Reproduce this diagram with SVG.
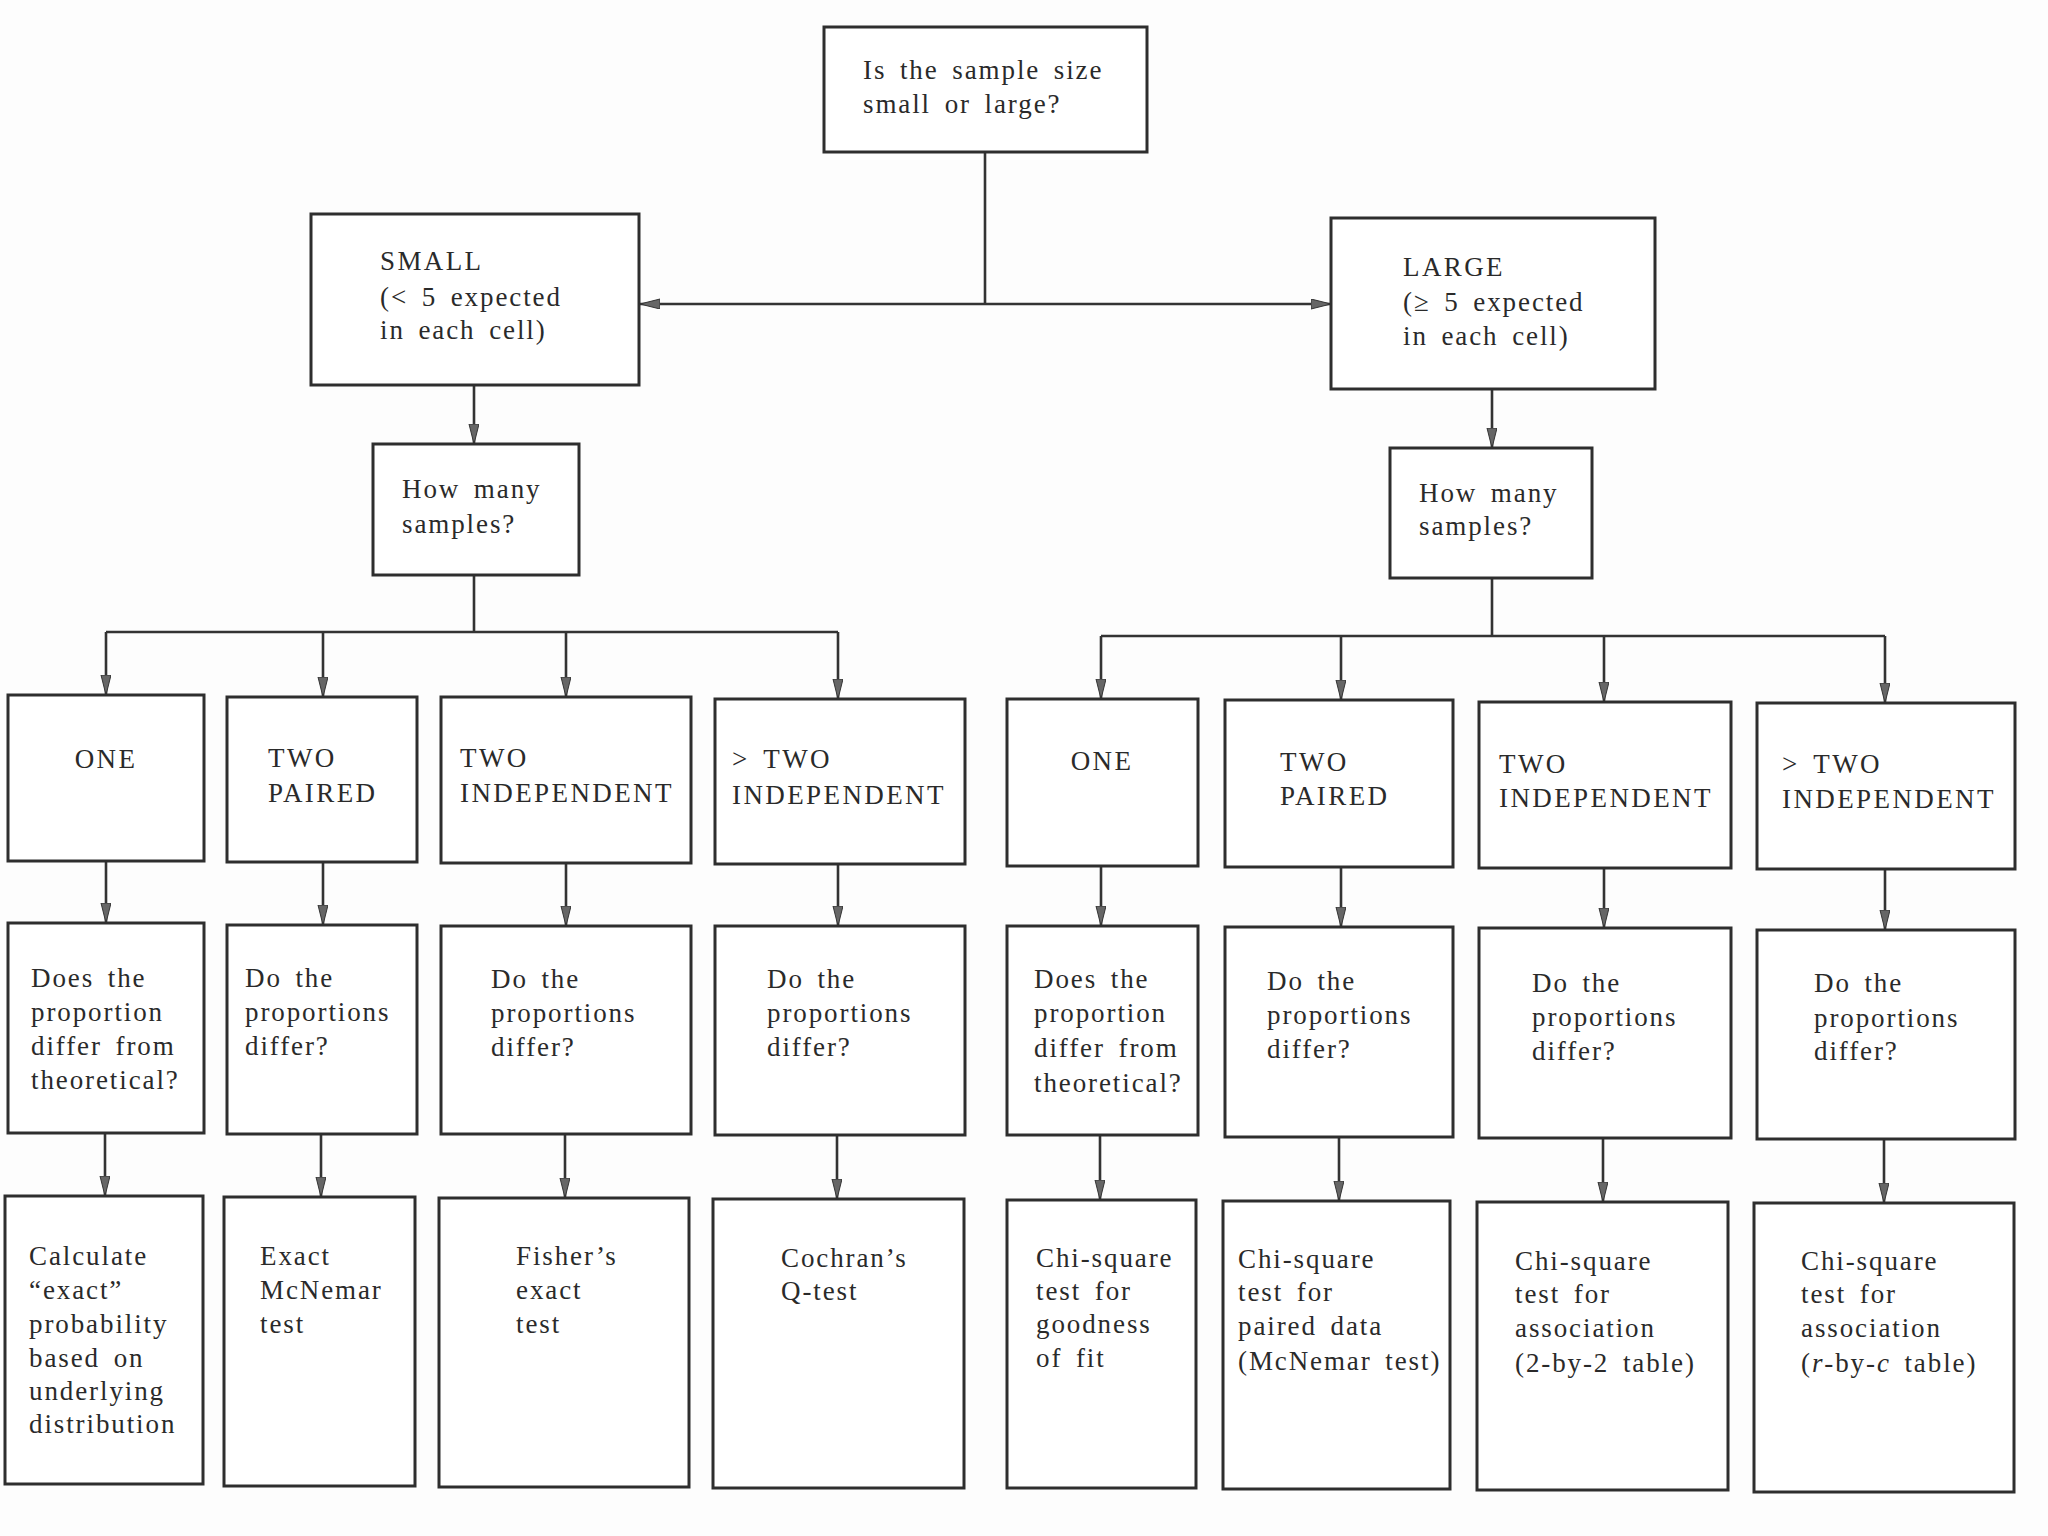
<svg xmlns="http://www.w3.org/2000/svg" width="2048" height="1536" viewBox="0 0 2048 1536">
<defs>
<marker id="arr" markerUnits="userSpaceOnUse" markerWidth="22" markerHeight="12" refX="20" refY="5" orient="auto">
<path d="M0,0 L20,5 L0,10 z" fill="#666" stroke="#333" stroke-width="1"/>
</marker>
<style>
.bx{fill:#fff;stroke:#2e2e2e;stroke-width:3}
.ln{fill:none;stroke:#333;stroke-width:2.6}
.ar{fill:none;stroke:#333;stroke-width:2.6;marker-end:url(#arr)}
text{font-family:"Liberation Serif","Times New Roman",serif;font-size:27px;fill:#2a2a2a;letter-spacing:1.9px;word-spacing:5px}
text.c{letter-spacing:2.4px}
</style>
</defs>
<rect width="2048" height="1536" fill="#fdfdfd"/>
<g id="connectors">
<path class="ln" d="M985,152 V304"/>
<path class="ar" d="M985,304 H640"/>
<path class="ar" d="M985,304 H1331"/>
<path class="ar" d="M474,385 V444"/>
<path class="ar" d="M1492,389 V448"/>
<path class="ln" d="M474,575 V632 M106,632 H838"/>
<path class="ar" d="M106,632 V695"/>
<path class="ar" d="M323,632 V697"/>
<path class="ar" d="M566,632 V697"/>
<path class="ar" d="M838,632 V699"/>
<path class="ln" d="M1492,578 V637 M1101,636 H1885"/>
<path class="ar" d="M1101,636 V699"/>
<path class="ar" d="M1341,636 V700"/>
<path class="ar" d="M1604,636 V702"/>
<path class="ar" d="M1885,636 V703"/>
<path class="ar" d="M106,861 V923"/>
<path class="ar" d="M323,862 V925"/>
<path class="ar" d="M566,863 V926"/>
<path class="ar" d="M838,864 V926"/>
<path class="ar" d="M1101,866 V926"/>
<path class="ar" d="M1341,867 V927"/>
<path class="ar" d="M1604,868 V928"/>
<path class="ar" d="M1885,869 V930"/>
<path class="ar" d="M105,1133 V1196"/>
<path class="ar" d="M321,1134 V1197"/>
<path class="ar" d="M565,1134 V1198"/>
<path class="ar" d="M837,1135 V1199"/>
<path class="ar" d="M1100,1135 V1200"/>
<path class="ar" d="M1339,1137 V1201"/>
<path class="ar" d="M1603,1138 V1202"/>
<path class="ar" d="M1884,1139 V1203"/>
</g>
<g id="n-root"><rect class="bx" x="824" y="27" width="323" height="125"/>
<text x="863" y="79">Is the sample size</text><text x="863" y="113">small or large?</text></g>
<g id="n-small"><rect class="bx" x="311" y="214" width="328" height="171"/>
<text class="c" x="380" y="270">SMALL</text><text x="380" y="306">(&lt; 5 expected</text><text x="380" y="339">in each cell)</text></g>
<g id="n-large"><rect class="bx" x="1331" y="218" width="324" height="171"/>
<text class="c" x="1403" y="276">LARGE</text><text x="1403" y="311">(≥ 5 expected</text><text x="1403" y="345">in each cell)</text></g>
<g id="n-hm-small"><rect class="bx" x="373" y="444" width="206" height="131"/>
<text x="402" y="498">How many</text><text x="402" y="533">samples?</text></g>
<g id="n-hm-large"><rect class="bx" x="1390" y="448" width="202" height="130"/>
<text x="1419" y="502">How many</text><text x="1419" y="535">samples?</text></g>

<g id="n-s-one"><rect class="bx" x="8" y="695" width="196" height="166"/>
<text class="c" x="106" y="768" text-anchor="middle">ONE</text></g>
<g id="n-s-paired"><rect class="bx" x="227" y="697" width="190" height="165"/>
<text class="c" x="268" y="767">TWO</text><text class="c" x="268" y="802">PAIRED</text></g>
<g id="n-s-indep"><rect class="bx" x="441" y="697" width="250" height="166"/>
<text class="c" x="460" y="767">TWO</text><text class="c" x="460" y="802">INDEPENDENT</text></g>
<g id="n-s-more"><rect class="bx" x="715" y="699" width="250" height="165"/>
<text class="c" x="732" y="768">&gt; TWO</text><text class="c" x="732" y="804">INDEPENDENT</text></g>

<g id="n-l-one"><rect class="bx" x="1007" y="699" width="191" height="167"/>
<text class="c" x="1102" y="770" text-anchor="middle">ONE</text></g>
<g id="n-l-paired"><rect class="bx" x="1225" y="700" width="228" height="167"/>
<text class="c" x="1280" y="771">TWO</text><text class="c" x="1280" y="805">PAIRED</text></g>
<g id="n-l-indep"><rect class="bx" x="1479" y="702" width="252" height="166"/>
<text class="c" x="1499" y="773">TWO</text><text class="c" x="1499" y="807">INDEPENDENT</text></g>
<g id="n-l-more"><rect class="bx" x="1757" y="703" width="258" height="166"/>
<text class="c" x="1782" y="773">&gt; TWO</text><text class="c" x="1782" y="808">INDEPENDENT</text></g>

<g id="q-s-one"><rect class="bx" x="8" y="923" width="196" height="210"/>
<text x="31" y="987">Does the</text><text x="31" y="1021">proportion</text><text x="31" y="1055">differ from</text><text x="31" y="1089">theoretical?</text></g>
<g id="q-s-paired"><rect class="bx" x="227" y="925" width="190" height="209"/>
<text x="245" y="987">Do the</text><text x="245" y="1021">proportions</text><text x="245" y="1055">differ?</text></g>
<g id="q-s-indep"><rect class="bx" x="441" y="926" width="250" height="208"/>
<text x="491" y="988">Do the</text><text x="491" y="1022">proportions</text><text x="491" y="1056">differ?</text></g>
<g id="q-s-more"><rect class="bx" x="715" y="926" width="250" height="209"/>
<text x="767" y="988">Do the</text><text x="767" y="1022">proportions</text><text x="767" y="1056">differ?</text></g>

<g id="q-l-one"><rect class="bx" x="1007" y="926" width="191" height="209"/>
<text x="1034" y="988">Does the</text><text x="1034" y="1022">proportion</text><text x="1034" y="1057">differ from</text><text x="1034" y="1092">theoretical?</text></g>
<g id="q-l-paired"><rect class="bx" x="1225" y="927" width="228" height="210"/>
<text x="1267" y="990">Do the</text><text x="1267" y="1024">proportions</text><text x="1267" y="1058">differ?</text></g>
<g id="q-l-indep"><rect class="bx" x="1479" y="928" width="252" height="210"/>
<text x="1532" y="992">Do the</text><text x="1532" y="1026">proportions</text><text x="1532" y="1060">differ?</text></g>
<g id="q-l-more"><rect class="bx" x="1757" y="930" width="258" height="209"/>
<text x="1814" y="992">Do the</text><text x="1814" y="1027">proportions</text><text x="1814" y="1060">differ?</text></g>

<g id="a-s-one"><rect class="bx" x="5" y="1196" width="198" height="288"/>
<text x="29" y="1265">Calculate</text><text x="29" y="1299">“exact”</text><text x="29" y="1333">probability</text><text x="29" y="1367">based on</text><text x="29" y="1400">underlying</text><text x="29" y="1433">distribution</text></g>
<g id="a-s-paired"><rect class="bx" x="224" y="1197" width="191" height="289"/>
<text x="260" y="1265">Exact</text><text x="260" y="1299">McNemar</text><text x="260" y="1333">test</text></g>
<g id="a-s-indep"><rect class="bx" x="439" y="1198" width="250" height="289"/>
<text x="516" y="1265">Fisher’s</text><text x="516" y="1299">exact</text><text x="516" y="1333">test</text></g>
<g id="a-s-more"><rect class="bx" x="713" y="1199" width="251" height="289"/>
<text x="781" y="1267">Cochran’s</text><text x="781" y="1300">Q-test</text></g>

<g id="a-l-one"><rect class="bx" x="1007" y="1200" width="189" height="288"/>
<text x="1036" y="1267">Chi-square</text><text x="1036" y="1300">test for</text><text x="1036" y="1333">goodness</text><text x="1036" y="1367">of fit</text></g>
<g id="a-l-paired"><rect class="bx" x="1223" y="1201" width="227" height="288"/>
<text x="1238" y="1268">Chi-square</text><text x="1238" y="1301">test for</text><text x="1238" y="1335">paired data</text><text x="1238" y="1370">(McNemar test)</text></g>
<g id="a-l-indep"><rect class="bx" x="1477" y="1202" width="251" height="288"/>
<text x="1515" y="1270">Chi-square</text><text x="1515" y="1303">test for</text><text x="1515" y="1337">association</text><text x="1515" y="1372">(2-by-2 table)</text></g>
<g id="a-l-more"><rect class="bx" x="1754" y="1203" width="260" height="289"/>
<text x="1801" y="1270">Chi-square</text><text x="1801" y="1303">test for</text><text x="1801" y="1337">association</text><text x="1801" y="1372">(<tspan font-style="italic">r</tspan>-by-<tspan font-style="italic">c</tspan> table)</text></g>
</svg>
